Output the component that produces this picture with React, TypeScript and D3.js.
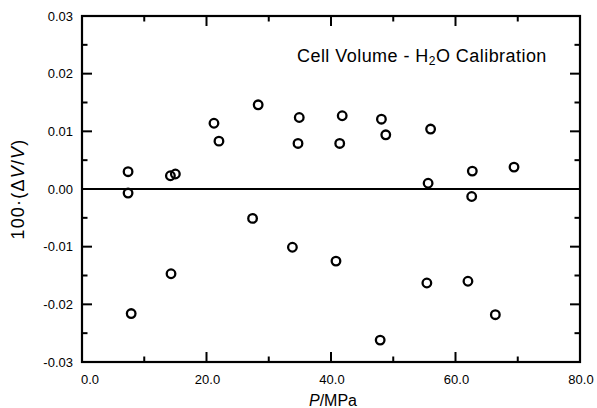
import React from "react";
import * as d3 from "d3";

const pressure: number[] = [
  7.4, 7.4, 14.2, 15.0, 21.2, 22.0, 28.3, 34.9, 34.7, 41.8, 41.4, 48.1, 48.8, 56.0, 55.6,
  62.7, 62.6, 69.4, 27.4, 33.8, 14.3, 7.9, 40.8, 47.9, 55.4, 62.0, 66.4,
];
const deviation: number[] = [
  0.0030, -0.0007, 0.0023, 0.0026, 0.0114, 0.0083, 0.0146, 0.0124, 0.0079, 0.0127, 0.0079,
  0.0121, 0.0094, 0.0104, 0.0010, 0.0031, -0.0013, 0.0038, -0.0051, -0.0101, -0.0147, -0.0216,
  -0.0125, -0.0262, -0.0163, -0.0160, -0.0218,
];
const xTicks: number[] = [0, 20, 40, 60, 80];
const xMinor: number[] = [10, 30, 50, 70];
const yTicks: number[] = [-0.03, -0.02, -0.01, 0, 0.01, 0.02, 0.03];
const yMinor: number[] = [-0.025, -0.015, -0.005, 0.005, 0.015, 0.025];

export default function App() {
  const W = 597, H = 408;
  const left = 82, right = 580, top = 16, bottom = 362;
  const x = d3.scaleLinear().domain([0, 80]).range([left, right]);
  const y = d3.scaleLinear().domain([-0.03, 0.03]).range([bottom, top]);
  const font = "'Liberation Sans', Arial, Helvetica, sans-serif";
  const major = 10, minor = 5.5;
  const sw = 2;
  return (
    <svg width={W} height={H} style={{ position: "absolute", left: 0, top: 0, background: "#fff" }}
      fontFamily={font}>
      <rect x={0} y={0} width={W} height={H} fill="#fff" />
      <line x1={left} x2={right} y1={y(0)} y2={y(0)} stroke="#000" strokeWidth={2} />
      {yTicks.map((t) => (
        <g key={"y" + t}>
          <line x1={left} x2={left + major} y1={y(t)} y2={y(t)} stroke="#000" strokeWidth={sw} />
          <line x1={right} x2={right - major} y1={y(t)} y2={y(t)} stroke="#000" strokeWidth={sw} />
          <text x={73} y={y(t) + 4.5} textAnchor="end" fontSize={13}>
            {t.toFixed(2).replace("-0.00", "0.00")}
          </text>
        </g>
      ))}
      {yMinor.map((t) => (
        <g key={"ym" + t}>
          <line x1={left} x2={left + minor} y1={y(t)} y2={y(t)} stroke="#000" strokeWidth={sw} />
          <line x1={right} x2={right - minor} y1={y(t)} y2={y(t)} stroke="#000" strokeWidth={sw} />
        </g>
      ))}
      {xTicks.map((t, i) => (
        <g key={"x" + t}>
          <line x1={x(t)} x2={x(t)} y1={bottom} y2={bottom - major} stroke="#000" strokeWidth={sw} />
          <line x1={x(t)} x2={x(t)} y1={top} y2={top + major} stroke="#000" strokeWidth={sw} />
          <text x={i === 0 ? x(t) - 1 : x(t) + 1} y={384} textAnchor={i === 0 ? "start" : "middle"} fontSize={13}>
            {t.toFixed(1)}
          </text>
        </g>
      ))}
      {xMinor.map((t) => (
        <g key={"xm" + t}>
          <line x1={x(t)} x2={x(t)} y1={bottom} y2={bottom - minor} stroke="#000" strokeWidth={sw} />
          <line x1={x(t)} x2={x(t)} y1={top} y2={top + minor} stroke="#000" strokeWidth={sw} />
        </g>
      ))}
      <rect x={left} y={top} width={right - left} height={bottom - top} fill="none" stroke="#000" strokeWidth={2.2} />
      {pressure.map((p, i) => (
        <circle key={i} cx={x(p)} cy={y(deviation[i])} r={4.3} fill="none" stroke="#000" strokeWidth={2.3} />
      ))}
      <text x={297} y={62} fontSize={18} letterSpacing={0.45}>
        Cell Volume - H<tspan fontSize={12} dy={3}>2</tspan><tspan dy={-3}>O Calibration</tspan>
      </text>
      <text x={333} y={406} textAnchor="middle" fontSize={16}>
        <tspan fontStyle="italic">P</tspan>/MPa
      </text>
      <text transform={`translate(24,${y(0)}) rotate(-90)`} textAnchor="middle" fontSize={18} letterSpacing={1.2}>
        100·(Δ<tspan fontStyle="italic">V</tspan>/<tspan fontStyle="italic">V</tspan>)
      </text>
    </svg>
  );
}
